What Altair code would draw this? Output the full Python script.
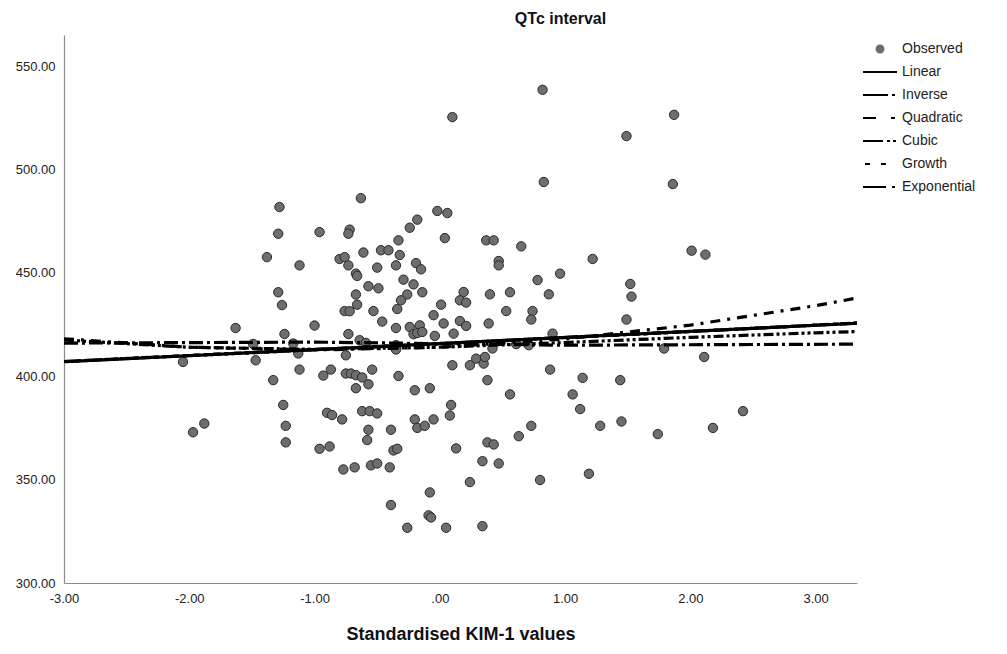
import altair as alt
import pandas as pd

# ---------------- data ----------------
kim = [
    -0.63, -1.28, -0.02, -1.29, -0.96, -0.72, -0.73, -0.18, -0.24, -0.33, -1.38, -1.12, -0.61, -0.47, -0.41,
    -0.32, -0.80, -0.76, -0.73, -0.50, -0.35, -0.19, -0.15, -0.67, -0.66, -0.29, -0.57, -0.49, -0.21, -0.14,
    -0.26, -0.31, -0.34, -0.67, -0.66, -1.29, -1.26, -0.76, -0.72, -0.53, -0.05, -0.46, -0.35, -0.24, -0.16,
    -0.21, -0.18, -0.14, -0.04, -1.63, -1.00, -1.24, -0.73, -0.64, -1.49, -1.17, -0.59, -0.35, -0.35, -0.75,
    -1.13,
    -2.05, -1.47, -1.12, -0.87, -0.93, -1.33, -0.75, -0.71, -0.67, -0.62, -0.54, -0.57, -0.67, -0.33, -0.20,
    -0.08, -1.25, -0.90, -0.86, -0.78, -0.62, -0.56, -0.50, -0.20, -0.18, -0.12, -0.05, -1.88, -1.97, -1.23,
    -1.23, -0.57, -0.58, -0.39, -0.96, -0.88, -0.37, -0.34, -0.77, -0.68, -0.55, -0.50, -0.40, -0.08, -0.39,
    -0.09, -0.07, -0.26,
    0.82, 0.10, 1.87, 1.49, 0.83, 1.86, 0.06, 0.04, 0.37, 0.43, 0.65, 2.01, 2.12, 1.22, 0.47,
    0.47, 0.96, 0.78, 1.52, 1.53, 0.19, 0.16, 0.21, 0.40, 0.56, 0.87, 0.01, 0.53, 0.74, 0.73,
    1.49, 0.03, 0.16, 0.21, 0.39,
    0.11, 0.90, 0.42, 0.61, 0.71, 1.79, 2.11, 0.10, 0.24, 0.29, 0.35, 0.36, 0.88, 0.38, 1.14,
    1.44, 0.56, 1.06, 0.09, 0.08, 1.12, 2.42, 0.73, 0.63, 1.28, 1.45, 1.74, 2.18, 0.13, 0.38,
    0.43, 0.34, 0.47, 0.24, 0.80, 1.19, 0.05, 0.34,
]
qtc = [
    486.1, 481.8, 479.9, 468.9, 469.7, 470.9, 468.9, 475.7, 471.8, 465.7, 457.6, 453.6, 459.8, 460.9, 460.9,
    458.6, 456.7, 457.6, 453.6, 452.5, 453.6, 454.7, 451.7, 449.6, 448.5, 446.7, 443.5, 442.5, 444.4, 440.6,
    439.5, 436.7, 432.5, 439.5, 434.6, 440.6, 434.4, 431.5, 431.4, 431.5, 429.5, 426.4, 423.3, 423.8, 424.6,
    420.3, 420.9, 421.4, 419.5, 423.3, 424.5, 420.4, 420.4, 417.4, 415.6, 415.8, 416.1, 415.0, 412.9, 410.1,
    411.0,
    406.9, 407.7, 403.2, 403.2, 400.3, 398.1, 401.3, 401.3, 400.5, 399.4, 403.2, 396.1, 394.2, 400.1, 393.2,
    394.2, 386.1, 382.3, 381.2, 379.1, 383.1, 383.1, 382.0, 379.1, 375.0, 376.0, 379.1, 377.1, 372.9, 376.0,
    368.0, 374.1, 369.1, 374.1, 364.9, 366.0, 364.1, 364.9, 354.9, 355.9, 356.9, 357.8, 355.9, 343.8, 337.7,
    332.7, 331.7, 326.7,
    538.5, 525.3, 526.4, 516.1, 493.9, 492.9, 478.9, 466.8, 465.7, 465.7, 462.8, 460.7, 458.8, 456.7, 455.7,
    453.6, 449.6, 446.5, 444.6, 438.5, 440.7, 436.7, 435.6, 439.6, 440.6, 439.6, 434.6, 431.5, 431.5, 427.4,
    427.4, 425.5, 426.7, 424.3, 425.5,
    420.6, 420.6, 413.4, 415.5, 415.0, 413.4, 409.3, 405.3, 405.3, 408.5, 406.1, 409.3, 403.2, 398.1, 399.2,
    398.1, 391.2, 391.2, 386.1, 381.0, 384.1, 383.1, 376.0, 371.0, 376.0, 378.1, 372.0, 375.0, 365.1, 368.0,
    367.0, 358.9, 357.8, 348.8, 349.8, 352.8, 326.7, 327.5,
]

# fitted curves, values at a few x positions
linear_x = [-3.0, 3.33]
linear_y = [407.0, 425.6]
inverse_x = [-3.0, -1.0, 1.0, 3.33]
inverse_y = [416.0, 416.5, 415.0, 415.5]
quad_x = [-3.0, -2.0, -1.0, 0.0, 1.0, 2.0, 3.0, 3.33]
quad_y = [418.1, 414.0, 412.7, 414.0, 418.0, 424.7, 434.1, 437.8]
cubic_x = [-3.0, -2.0, -1.0, 0.0, 1.0, 2.0, 3.0, 3.33]
cubic_y = [417.5, 414.0, 413.0, 414.0, 416.3, 418.8, 421.0, 421.6]
growth_x = [-3.0, -2.0, -1.0, 0.0, 1.0, 2.0, 3.0, 3.33]
growth_y = [407.1, 410.0, 412.8, 415.7, 418.7, 421.6, 424.7, 425.7]
expo_x = growth_x
expo_y = growth_y

series_names = ["Observed", "Linear", "Inverse", "Quadratic", "Cubic", "Growth", "Exponential"]
x_ticks = [-3, -2, -1, 0, 1, 2, 3]
y_ticks = [300, 350, 400, 450, 500, 550]

# ---------------- tables ----------------
obs = pd.DataFrame({"x": kim, "y": qtc, "series": "Observed"})
curves = []
for name, xs, ys in [("Linear", linear_x, linear_y), ("Inverse", inverse_x, inverse_y),
                     ("Quadratic", quad_x, quad_y), ("Cubic", cubic_x, cubic_y),
                     ("Growth", growth_x, growth_y), ("Exponential", expo_x, expo_y)]:
    for i, (a, b) in enumerate(zip(xs, ys)):
        curves.append({"x": a, "y": b, "series": name, "o": i})
fit = pd.DataFrame(curves)

# ---------------- legend symbols (custom paths, unit box) ----------------
def bars(segs, h=0.24):
    return "".join(f"M{a},{-h}H{b}V{h}H{a}Z" for a, b in segs)

circle_path = "M-1,0A1,1,0,1,1,1,0A1,1,0,1,1,-1,0Z"
legend_shapes = [
    circle_path,
    bars([(-3.78, 3.78)]),
    bars([(-3.78, 1.78), (2.67, 3.33)]),
    bars([(-3.78, -0.89), (2.44, 3.33)]),
    bars([(-3.78, 0.67), (1.56, 2.22), (2.89, 3.56)]),
    bars([(-3.33, -2.22), (0.22, 1.33)]),
    bars([(-3.78, 1.33), (2.67, 3.33)]),
]
legend_fills = ["#6e6e6e", "#000000", "#000000", "#000000", "#000000", "#000000", "#000000"]

dash_names = series_names[1:]
dash_range = [[1, 0], [14, 4, 3, 4], [10, 7, 3, 7], [10, 3, 3, 3, 3, 3], [5, 5], [10, 4, 3, 4]]

xscale = alt.Scale(domain=[-3, 3.33], nice=False, zero=False)
yscale = alt.Scale(domain=[300, 565], nice=False, zero=False)

xaxis = alt.Axis(values=x_ticks, title="Standardised KIM-1 values", grid=False, ticks=False,
                 labelExpr="datum.value == 0 ? '.00' : (datum.value < 0 ? '-' : '') + format(abs(datum.value), '.2f')",
                 labelFontSize=13, labelColor="#222222", labelPadding=9, labelFlush=False,
                 titleFontSize=18, titleFontWeight="bold", titleColor="#111111", titlePadding=20,
                 domainColor="#8c8c8c", domainWidth=1.2)
yaxis = alt.Axis(values=y_ticks, title=None, grid=False, ticks=False, format=".2f",
                 labelFontSize=13, labelColor="#222222", labelPadding=9, labelFlush=False,
                 domainColor="#8c8c8c", domainWidth=1.2)

legend = alt.Legend(title=None, orient="none", legendX=809, legendY=7, padding=0,
                    symbolSize=81, symbolStrokeColor="#222222", symbolStrokeWidth=1,
                    labelFontSize=14, labelColor="#222222", labelOffset=15, rowPadding=9,
                    labelFont="Liberation Sans")

points = alt.Chart(obs).mark_point(filled=True, size=88, stroke="#2a2a2a", strokeWidth=1, opacity=1).encode(
    x=alt.X("x:Q", scale=xscale, axis=xaxis),
    y=alt.Y("y:Q", scale=yscale, axis=yaxis),
    shape=alt.Shape("series:N", scale=alt.Scale(domain=series_names, range=legend_shapes), legend=legend),
    fill=alt.Fill("series:N", scale=alt.Scale(domain=series_names, range=legend_fills), legend=legend),
)

lines = alt.Chart(fit).mark_line(strokeWidth=3.2, color="#000000", clip=True).encode(
    x=alt.X("x:Q", scale=xscale),
    y=alt.Y("y:Q", scale=yscale),
    strokeDash=alt.StrokeDash("series:N", scale=alt.Scale(domain=dash_names, range=dash_range), legend=None),
    order="o:Q",
)

chart = alt.layer(points, lines).properties(
    width=793, height=548,
    autosize=alt.AutoSizeParams(type="none"),
    padding={"left": 64, "top": 35, "right": 150, "bottom": 71},
    title=alt.TitleParams("QTc interval", anchor="middle", frame="group", dx=100, offset=8,
                          fontSize=16, fontWeight="bold", font="Liberation Sans", color="#111111"),
).configure(font="Liberation Sans").configure_view(stroke=None).configure_axis(
    labelFont="Liberation Sans", titleFont="Liberation Sans"
)

chart.save("out.html", embed_options={"renderer": "svg", "actions": False})
